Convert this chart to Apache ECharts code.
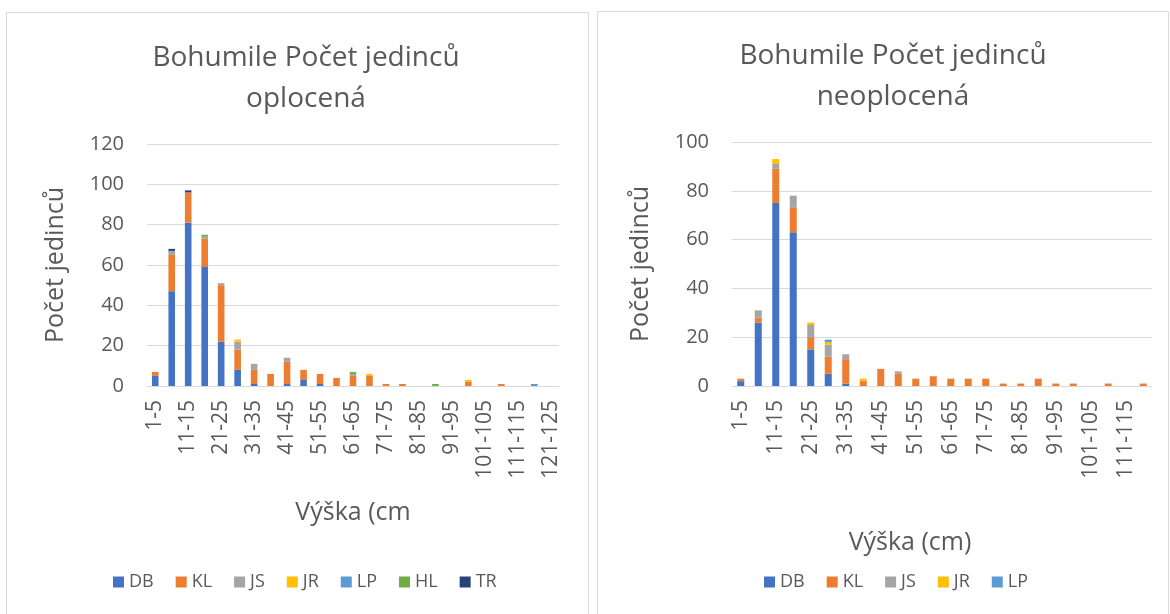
<!DOCTYPE html>
<html>
<head>
<meta charset="utf-8">
<script src="https://cdn.jsdelivr.net/npm/echarts@6/dist/echarts.min.js"></script>
<style>
  html, body { margin: 0; padding: 0; background: #fff; }
  #chart { width: 1170px; height: 614px; }
</style>
</head>
<body>
<div id="chart"></div>
<script>
// levy graf - oplocena, 25 trid vysky
var catsLeft = ["1-5","6-10","11-15","16-20","21-25","26-30","31-35","36-40","41-45","46-50",
  "51-55","56-60","61-65","66-70","71-75","76-80","81-85","86-90","91-95","96-100",
  "101-105","106-110","111-115","116-120","121-125"];
var dbLeft = [5,47,81,59,22,8,1,0,1,3,1,0,0,0,0,0,0,0,0,0,0,0,0,0,0];
var klLeft = [2,18,15,14,28,10,7,6,11,5,5,4,5,5,1,1,0,0,0,2,0,1,0,0,0];
var jsLeft = [0,2,0,1,1,4,3,0,2,0,0,0,1,0,0,0,0,0,0,0,0,0,0,0,0];
var jrLeft = [0,0,0,0,0,1,0,0,0,0,0,0,0,1,0,0,0,0,0,1,0,0,0,0,0];
var lpLeft = [0,0,0,0,0,0,0,0,0,0,0,0,0,0,0,0,0,0,0,0,0,0,0,1,0];
var hlLeft = [0,0,0,1,0,0,0,0,0,0,0,0,1,0,0,0,0,1,0,0,0,0,0,0,0];
var trLeft = [0,1,1,0,0,0,0,0,0,0,0,0,0,0,0,0,0,0,0,0,0,0,0,0,0];

// pravy graf - neoplocena, 24 trid
var catsRight = catsLeft.slice(0, 24);
var dbRight = [2,26,75,63,15,5,1,0,0,0,0,0,0,0,0,0,0,0,0,0,0,0,0,0];
var klRight = [1,2,14,10,5,7,10,2,7,5,3,4,3,3,3,1,1,3,1,1,0,1,0,1];
var jsRight = [0,3,2,5,5,5,2,0,0,1,0,0,0,0,0,0,0,0,0,0,0,0,0,0];
var jrRight = [0,0,2,0,1,1,0,1,0,0,0,0,0,0,0,0,0,0,0,0,0,0,0,0];
var lpRight = [0,0,0,0,0,1,0,0,0,0,0,0,0,0,0,0,0,0,0,0,0,0,0,0];

var yTicksLeft = { max: 120, interval: 20 };
var yTicksRight = { max: 100, interval: 20 };

var colors = { DB: "#4472C4", KL: "#ED7D31", JS: "#A5A5A5", JR: "#FFC000", LP: "#5B9BD5", HL: "#70AD47", TR: "#264478" };
var txt = "#595959";
var font = "Open Sans";

function bar(name, data, idx, stack) {
  return {
    name: name,
    type: "bar",
    stack: stack,
    xAxisIndex: idx,
    yAxisIndex: idx,
    barCategoryGap: "60%",
    itemStyle: { color: colors[name] },
    // nuly nekreslit
    data: data.map(function (v) { return v === 0 ? null : v; })
  };
}

function xAx(idx, cats, name, gap, shift) {
  return {
    type: "category",
    gridIndex: idx,
    data: cats,
    name: name,
    nameLocation: "middle",
    nameGap: gap,
    nameTextStyle: { color: txt, fontSize: 25, fontFamily: font, padding: [0, shift, 0, 0] },
    axisLine: { lineStyle: { color: "#D9D9D9", width: 1 } },
    axisTick: { show: false },
    axisLabel: { rotate: 90, interval: 1, color: txt, fontSize: 21, fontFamily: font, margin: 14 }
  };
}

function yAx(idx, ticks) {
  return {
    type: "value",
    gridIndex: idx,
    min: 0,
    max: ticks.max,
    interval: ticks.interval,
    name: "Počet jedinců",
    nameLocation: "middle",
    nameGap: 79,
    nameTextStyle: { color: txt, fontSize: 25, fontFamily: font },
    axisLine: { show: false },
    axisTick: { show: false },
    axisLabel: { color: txt, fontSize: 20, fontFamily: font, margin: 23 },
    splitLine: { lineStyle: { color: "#D9D9D9", width: 1 } }
  };
}

var myChart = echarts.init(document.getElementById("chart"));

var option = {
  animation: false,
  backgroundColor: "#fff",
  graphic: [
    { type: "rect", shape: { x: 6.5, y: 12.5, width: 582, height: 620 }, style: { fill: "none", stroke: "#D9D9D9", lineWidth: 1 } },
    { type: "rect", shape: { x: 597.5, y: 11.5, width: 571, height: 620 }, style: { fill: "none", stroke: "#D9D9D9", lineWidth: 1 } }
  ],
  title: [
    { text: "Bohumile Počet jedinců\noplocená", left: 301, top: 33, textAlign: "center",
      textStyle: { color: txt, fontSize: 28, fontWeight: "normal", fontFamily: font, lineHeight: 41 } },
    { text: "Bohumile Počet jedinců\nneoplocená", left: 888, top: 31, textAlign: "center",
      textStyle: { color: txt, fontSize: 28, fontWeight: "normal", fontFamily: font, lineHeight: 41 } }
  ],
  legend: [
    { data: ["DB","KL","JS","JR","LP","HL","TR"], left: 108, top: 568, itemWidth: 11, itemHeight: 11, itemGap: 22,
      icon: "rect", textStyle: { color: txt, fontSize: 18, fontFamily: font } },
    { data: ["DB","KL","JS","JR","LP"], left: 759, top: 568, itemWidth: 11, itemHeight: 11, itemGap: 22,
      icon: "rect", textStyle: { color: txt, fontSize: 18, fontFamily: font } }
  ],
  grid: [
    { left: 147, top: 144, width: 412, height: 242 },
    { left: 732, top: 142, width: 420, height: 244 }
  ],
  xAxis: [
    xAx(0, catsLeft, "Výška (cm", 114, 0),
    xAx(1, catsRight, "Výška (cm)", 144, 64)
  ],
  yAxis: [
    yAx(0, yTicksLeft),
    yAx(1, yTicksRight)
  ],
  series: [
    bar("DB", dbLeft, 0, "L"),
    bar("KL", klLeft, 0, "L"),
    bar("JS", jsLeft, 0, "L"),
    bar("JR", jrLeft, 0, "L"),
    bar("LP", lpLeft, 0, "L"),
    bar("HL", hlLeft, 0, "L"),
    bar("TR", trLeft, 0, "L"),
    bar("DB", dbRight, 1, "R"),
    bar("KL", klRight, 1, "R"),
    bar("JS", jsRight, 1, "R"),
    bar("JR", jrRight, 1, "R"),
    bar("LP", lpRight, 1, "R")
  ]
};
myChart.setOption(option);
</script>
</body>
</html>
